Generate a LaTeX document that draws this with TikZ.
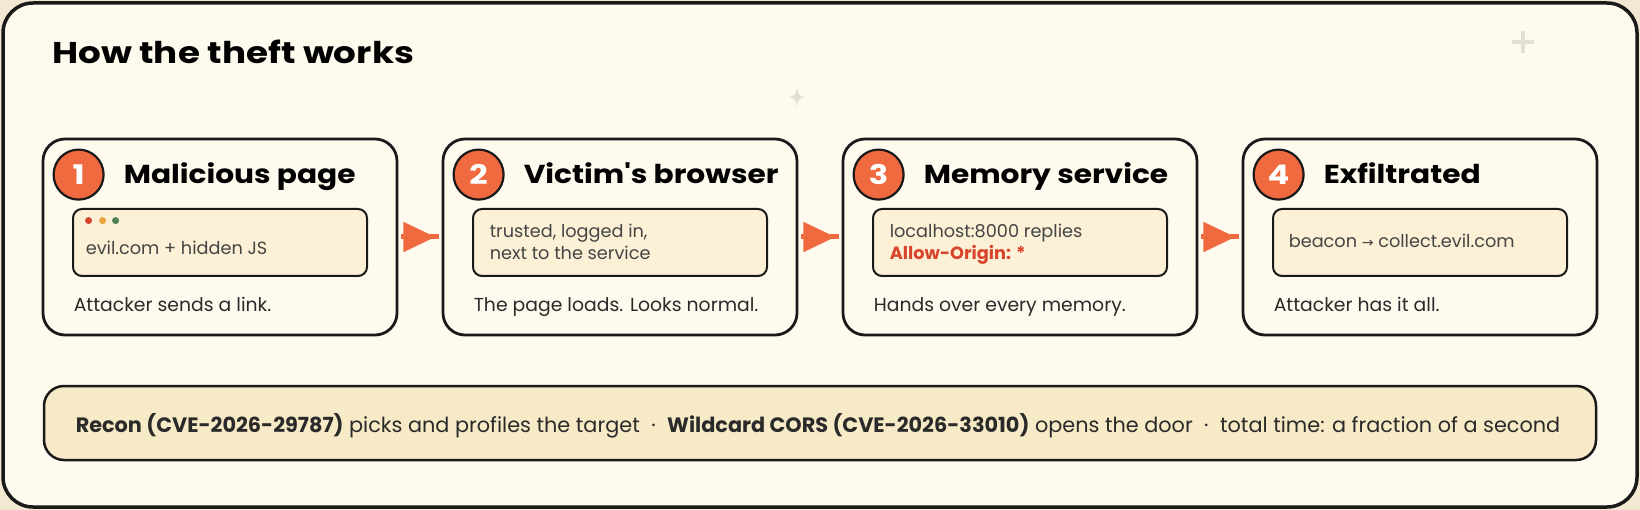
\documentclass[tikz,border=0pt]{standalone}
\usepackage{fontspec}
\setmainfont{Poppins}
\newfontfamily\headfont{Poppins}[FakeStretch=1.19]
\newfontfamily\cardfont{Poppins}[FakeStretch=1.14]
\newfontfamily\symfont{DejaVu Sans}
\usetikzlibrary{arrows.meta,decorations.markings,calc}
\definecolor{bgout}{HTML}{F3E8D2}
\definecolor{cream}{HTML}{FFFAEE}
\definecolor{ink}{HTML}{1A1A1A}
\definecolor{accent}{HTML}{F06A40}
\definecolor{innerfill}{HTML}{FCF1D6}
\definecolor{barfill}{HTML}{F7EAC6}
\definecolor{graytxt}{HTML}{444444}
\definecolor{captxt}{HTML}{2A2A2A}
\definecolor{redtxt}{HTML}{D9432A}
\definecolor{dotred}{HTML}{D6432C}
\definecolor{dotorange}{HTML}{E9A43C}
\definecolor{dotgreen}{HTML}{4E8052}
\definecolor{deco}{HTML}{E2DFD3}
\begin{document}
\begin{tikzpicture}[x=1pt,y=-1pt,
  card/.style={draw=ink,line width=2.8pt,fill=cream,rounded corners=22pt,minimum width=354pt,minimum height=196pt,inner sep=0pt},
  numc/.style={circle,draw=ink,line width=2.2pt,fill=accent,minimum size=50pt,inner sep=0pt,text=white,font=\headfont\fontsize{27}{27}\selectfont\bfseries},
  ctitle/.style={anchor=base west,inner sep=0pt,font=\cardfont\fontsize{26}{26}\selectfont\bfseries,text=black},
  innerbox/.style={draw=ink,line width=2pt,fill=innerfill,rounded corners=9pt,minimum width=294pt,minimum height=67pt,inner sep=0pt},
  itext/.style={anchor=base west,inner sep=0pt,font=\fontsize{17.7}{17.7}\selectfont,text=graytxt},
  caption/.style={anchor=base west,inner sep=0pt,font=\fontsize{18.8}{18.8}\selectfont,text=captxt},
  flow/.style={draw=accent,line width=5pt,shorten <=3pt,shorten >=3pt,postaction={decorate},
    decoration={markings,mark=at position 37pt with {\arrow[accent]{Triangle[length=32pt,width=29pt]}}}},
  dotc/.style={circle,inner sep=0pt,minimum size=7pt}
]
% background
\fill[bgout] (0,0) rectangle (1640,510);
\useasboundingbox (0,0) rectangle (1640,510);
\draw[ink,line width=3.5pt,fill=cream,rounded corners=30pt] (3,3) rectangle (1637,507);

% decorations
\fill[deco] (797,86) .. controls (798,95) .. (805,97) .. controls (798,99) .. (797,108) .. controls (796,99) .. (789,97) .. controls (796,95) .. (797,86) -- cycle;
\draw[deco,line width=4pt] (1512,42) -- (1534,42) (1523,31) -- (1523,53);

% title
\node[anchor=base west,inner sep=0pt,font=\headfont\fontsize{30}{30}\selectfont\bfseries] (title) at (52,64) {How the theft works};

% cards
\node[card] (c1) at (220,237) {};
\node[card] (c2) at (620,237) {};
\node[card] (c3) at (1020,237) {};
\node[card] (c4) at (1420,237) {};

\foreach \i/\t in {1/Malicious page,2/Victim\symbol{39}s browser,3/Memory service,4/Exfiltrated}{
  \node[numc] (n\i) at ($(c\i.north west)+(37,37)$) {\i};
  \node[ctitle] (t\i) at ($(c\i.north west)+(82,46)$) {\t};
  \node[innerbox] (b\i) at ($(c\i.center)+(0,5.5)$) {};
}

% card 1 content
\node[dotc,fill=dotred] (d1) at ($(c1.north west)+(47,83)$) {};
\node[dotc,fill=dotorange] (d2) at ($(c1.north west)+(61,83)$) {};
\node[dotc,fill=dotgreen] (d3) at ($(c1.north west)+(74,83)$) {};
\node[itext] (i1) at ($(c1.north west)+(44,117)$) {evil.com + hidden JS};
\node[caption] (p1) at ($(c1.north west)+(32,174)$) {Attacker sends a link.};

% card 2 content
\node[itext] (i2a) at ($(c2.north west)+(48,100)$) {trusted, logged in,};
\node[itext] (i2b) at ($(c2.north west)+(48,122)$) {next to the service};
\node[caption] (p2) at ($(c2.north west)+(32,174)$) {The page loads. Looks normal.};

% card 3 content
\node[itext] (i3a) at ($(c3.north west)+(48,100)$) {localhost:8000 replies};
\node[itext,text=redtxt,font=\fontsize{17.7}{17.7}\selectfont\bfseries] (i3b) at ($(c3.north west)+(48,122)$) {Allow-Origin: *};
\node[caption] (p3) at ($(c3.north west)+(32,174)$) {Hands over every memory.};

% card 4 content
\node[itext] (i4) at ($(c4.north west)+(47,110)$) {beacon {\symfont\fontsize{14}{14}\selectfont →} collect.evil.com};
\node[caption] (p4) at ($(c4.north west)+(32,174)$) {Attacker has it all.};

% arrows
\draw[flow] (c1.east) -- (c2.west);
\draw[flow] (c2.east) -- (c3.west);
\draw[flow] (c3.east) -- (c4.west);

% bottom bar
\node[draw=ink,line width=2.5pt,fill=barfill,rounded corners=20pt,minimum width=1552pt,minimum height=74pt,inner sep=0pt] (bar) at (820,423) {};
\node[inner sep=0pt,font=\fontsize{20.8}{20.8}\selectfont,text=captxt] (bartext) at ($(bar.center)+(-2,3)$)
  {\textbf{Recon (CVE-2026-29787)} picks and profiles the target\hspace{0.55em}·\hspace{0.55em}\textbf{Wildcard CORS (CVE-2026-33010)} opens the door\hspace{0.55em}·\hspace{0.55em}total time: a fraction of a second};
\end{tikzpicture}
\end{document}
